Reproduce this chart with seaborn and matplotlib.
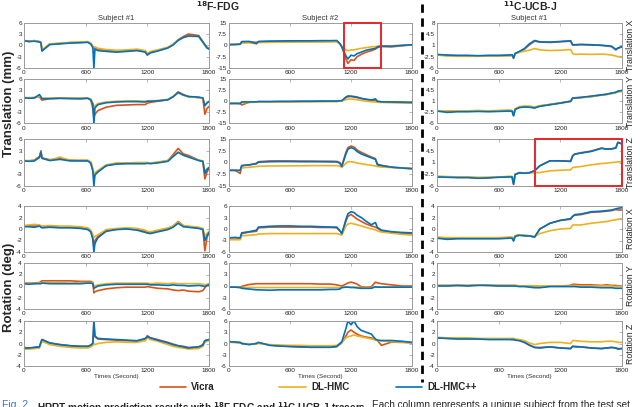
import matplotlib
matplotlib.use("Agg")
import matplotlib.pyplot as plt
from matplotlib.lines import Line2D
from matplotlib.patches import Rectangle
import seaborn as sns
import pandas as pd

# time grids (seconds) for each subject column
t_fdg1 = [0, 50, 100, 150, 165, 175, 250, 350, 450, 550, 620, 650, 670, 680, 690, 720, 800, 900,
          1000, 1100, 1180, 1200, 1230, 1300, 1400, 1450, 1500, 1550, 1600, 1700, 1740, 1760, 1780, 1800]
t_fdg2 = [0, 60, 110, 125, 200, 270, 290, 400, 500, 600, 700, 800, 900, 1000, 1060, 1090, 1110,
          1150, 1170, 1200, 1230, 1260, 1300, 1350, 1400, 1440, 1460, 1500, 1600, 1700, 1800]
t_ucb1 = [0, 100, 200, 300, 400, 500, 600, 700, 730, 745, 760, 800, 850, 900, 950, 1000, 1100,
          1200, 1300, 1320, 1340, 1400, 1500, 1600, 1650, 1700, 1740, 1760, 1800]

# ---- 18F-FDG subject #1 ----
c1_tx_vicra = [1.3, 1.1, 1.2, 1.0, 0.8, -1.4, 0.3, 0.5, 0.7, 0.8, 0.9, 0.5, -0.3, -0.8, -0.6, -1.0, -1.3, -1.5, -1.4, -1.2, -1.6, -2.6, -1.8, -1.4, -0.6, 0.2, 1.5, 2.3, 3.0, 2.6, 1.0, 0.2, -0.5, -0.8]
c1_tx_hmc = [1.2, 1.0, 1.3, 0.9, 0.7, -1.2, 0.4, 0.6, 0.8, 0.9, 1.0, 0.6, -0.2, -0.5, -0.4, -0.8, -1.1, -1.3, -1.2, -1.0, -1.4, -2.2, -1.6, -1.2, -0.5, 0.3, 1.4, 2.0, 2.4, 2.3, 0.8, 0.0, -0.6, -0.9]
c1_tx_pp = [1.2, 1.0, 1.1, 0.9, 0.7, -1.5, 0.2, 0.4, 0.6, 0.7, 0.8, 0.3, -0.6, -6.0, -1.0, -1.4, -1.6, -1.8, -1.6, -1.4, -1.8, -2.5, -2.0, -1.5, -0.7, 0.1, 1.3, 2.1, 2.5, 2.4, 0.9, 0.1, -0.7, -1.0]

c1_ty_vicra = [1.0, 0.9, 1.0, 1.2, 0.6, 0.3, 0.7, 0.8, 0.8, 0.7, 0.8, 0.3, -2.0, -4.5, -3.5, -2.5, -1.6, -1.1, -1.0, -0.9, -0.9, -0.5, -0.3, 0.0, 0.4, 1.2, 2.5, 1.8, 1.2, 1.0, 0.8, -3.5, -2.0, -1.4]
c1_ty_hmc = [0.9, 1.0, 0.9, 1.3, 1.0, 0.8, 0.8, 0.9, 0.8, 0.8, 0.9, 0.5, -0.5, -1.5, -1.2, -0.6, -0.2, 0.0, 0.1, 0.1, 0.0, 0.1, 0.1, 0.2, 0.5, 1.3, 2.2, 1.6, 1.2, 1.0, 0.8, -1.0, -0.3, 0.0]
c1_ty_pp = [0.9, 0.8, 0.9, 1.8, 1.2, 0.7, 0.7, 0.8, 0.7, 0.7, 0.8, 0.4, -0.8, -6.0, -1.8, -0.9, -0.4, -0.2, -0.1, -0.1, -0.2, 0.0, 0.0, 0.1, 0.4, 1.2, 2.4, 1.7, 1.3, 1.1, 0.9, -1.2, -0.5, -0.1]

c1_tz_vicra = [0.5, 0.4, 0.6, 1.5, 3.0, 1.2, 0.7, 1.0, 0.6, 0.5, 0.5, 0.0, -2.0, -4.0, -3.0, -2.3, -0.8, -0.3, -0.2, -0.2, -0.2, -0.1, -0.2, 0.0, 0.5, 2.0, 3.6, 2.2, 1.8, 0.6, 0.3, -4.2, -2.5, -1.5]
c1_tz_hmc = [0.4, 0.5, 0.5, 1.2, 2.2, 1.0, 0.6, 1.4, 0.5, 0.6, 0.6, 0.2, -1.5, -3.0, -2.6, -2.0, -0.6, -0.1, -0.1, 0.0, 0.0, 0.0, -0.1, 0.1, 0.5, 1.6, 2.6, 1.8, 1.4, 0.6, 0.4, -2.3, -1.6, -1.2]
c1_tz_pp = [0.4, 0.3, 0.4, 1.3, 2.6, 1.1, 0.5, 0.8, 0.4, 0.4, 0.4, -0.2, -2.2, -6.0, -3.2, -2.4, -0.8, -0.4, -0.3, -0.3, -0.3, -0.2, -0.3, -0.1, 0.3, 1.5, 2.6, 1.9, 1.4, 0.5, 0.3, -2.8, -1.8, -1.3]

c1_rx_vicra = [0.5, 0.6, 0.5, 0.6, 0.5, 0.4, 0.5, 0.4, 0.4, 0.3, 0.1, -0.4, -1.5, -3.2, -2.0, -1.3, -0.3, 0.0, 0.1, 0.0, -0.4, -0.6, -0.6, -0.3, 0.1, 0.5, 1.3, 0.6, 0.4, 0.2, 0.0, -3.8, -1.5, -0.6]
c1_rx_hmc = [0.6, 0.7, 0.8, 0.7, 0.6, 0.5, 0.6, 0.5, 0.5, 0.4, 0.2, -0.2, -1.0, -1.5, -1.3, -1.0, -0.1, 0.1, 0.2, 0.1, -0.2, -0.4, -0.5, -0.2, 0.2, 0.5, 1.2, 0.6, 0.5, 0.3, 0.1, -1.2, -0.8, -0.4]
c1_rx_pp = [0.4, 0.4, 0.3, 0.5, 0.3, 0.2, 0.3, 0.2, 0.2, 0.1, -0.1, -0.5, -1.8, -4.0, -2.5, -1.5, -0.4, -0.1, 0.0, -0.2, -0.6, -0.7, -0.8, -0.5, -0.1, 0.3, 1.0, 0.4, 0.3, 0.1, -0.1, -2.0, -1.2, -0.6]

c1_ry_vicra = [0.5, 0.5, 0.5, 0.6, 0.8, 0.9, 0.9, 0.9, 0.9, 0.8, 0.8, 0.8, 0.6, -1.2, -1.0, -0.8, -0.5, -0.3, -0.2, -0.2, -0.2, -0.1, -0.2, -0.4, -0.5, -0.7, -0.8, -0.7, -0.9, -1.0, -0.8, -0.3, 0.1, 0.3]
c1_ry_hmc = [0.4, 0.5, 0.4, 0.5, 0.5, 0.6, 0.6, 0.6, 0.5, 0.6, 0.6, 0.6, 0.5, 0.1, 0.0, 0.2, 0.4, 0.5, 0.5, 0.5, 0.5, 0.5, 0.4, 0.5, 0.4, 0.5, 0.4, 0.4, 0.4, 0.4, 0.3, 0.2, 0.3, 0.4]
c1_ry_pp = [0.4, 0.3, 0.4, 0.4, 0.4, 0.5, 0.4, 0.4, 0.4, 0.4, 0.5, 0.5, 0.4, -0.4, -0.3, 0.0, 0.2, 0.3, 0.3, 0.3, 0.3, 0.3, 0.2, 0.2, 0.1, 0.2, 0.1, 0.1, 0.0, 0.1, 0.0, -0.1, 0.1, 0.2]

c1_rz_vicra = [-0.7, -0.8, -0.7, -0.6, 0.2, 0.7, 0.1, -0.2, -0.4, -0.5, -0.5, -0.3, 0.1, 3.8, 1.2, 0.8, 0.7, 0.6, 0.5, 0.4, 0.8, 1.4, 1.0, 0.7, 0.2, -0.1, -0.4, -0.5, -0.7, -0.6, -0.2, 0.5, 0.6, 0.7]
c1_rz_hmc = [-1.0, -1.0, -0.9, -0.8, 0.0, 0.4, -0.2, -0.5, -0.7, -0.8, -0.8, -0.6, -0.3, 0.0, -0.2, 0.0, 0.2, 0.3, 0.2, 0.2, 0.5, 1.0, 0.7, 0.4, -0.2, -0.5, -0.7, -0.8, -1.0, -0.9, -0.5, 0.2, 0.4, 0.5]
c1_rz_pp = [-0.8, -0.8, -0.7, -0.6, 0.2, 0.7, 0.1, -0.2, -0.4, -0.5, -0.5, -0.3, 0.0, 4.0, 1.3, 0.9, 0.8, 0.7, 0.6, 0.5, 0.9, 1.2, 1.0, 0.6, 0.1, -0.2, -0.4, -0.6, -0.8, -0.6, -0.3, 0.5, 0.6, 0.7]

# ---- 18F-FDG subject #2 ----
c2_tx_vicra = [0.5, 0.6, 0.8, 2.0, 2.2, 2.0, 2.3, 2.5, 2.6, 2.6, 2.6, 2.6, 2.7, 2.7, 2.8, 1.0, -1.0, -9.0, -12.0, -9.5, -10.0, -7.5, -6.0, -4.5, -3.5, -2.5, -1.5, -0.8, -1.0, -0.3, 0.3]
c2_tx_hmc = [0.4, 0.5, 0.6, 1.5, 1.6, 1.0, 1.8, 2.0, 2.1, 2.1, 2.2, 2.2, 2.2, 2.3, 2.3, 1.0, -0.5, -3.0, -3.5, -3.0, -3.0, -2.5, -2.0, -1.5, -1.0, -0.8, -0.5, -0.3, -0.3, 0.0, 0.3]
c2_tx_pp = [0.5, 0.6, 0.8, 2.5, 2.6, 1.2, 2.6, 2.8, 2.9, 3.0, 3.0, 3.0, 3.1, 3.1, 3.2, 1.2, -1.0, -7.0, -9.0, -6.5, -7.0, -5.5, -4.5, -3.2, -2.5, -2.0, -1.0, -0.5, -0.6, 0.0, 0.4]

c2_ty_vicra = [-1.6, -1.5, -1.6, -2.5, -0.6, -0.5, -0.3, -0.3, -0.2, -0.2, -0.1, -0.1, 0.0, 0.0, 0.0, 0.2, 0.3, 2.5, 3.0, 3.2, 2.8, 2.5, 1.8, 1.2, 0.8, 0.6, -0.2, -0.4, -0.5, -0.7, -0.9]
c2_ty_hmc = [-1.5, -1.5, -1.5, -1.0, -0.8, -0.6, -0.6, -0.5, -0.5, -0.4, -0.4, -0.3, -0.3, -0.2, -0.2, 0.0, 0.2, 1.0, 1.4, 1.5, 1.3, 1.0, 0.5, 0.0, -0.3, -0.5, -0.7, -0.8, -1.0, -1.2, -1.3]
c2_ty_pp = [-1.5, -1.4, -1.5, -0.4, -0.5, -0.4, -0.2, -0.2, -0.1, -0.1, 0.0, 0.0, 0.1, 0.1, 0.1, 0.3, 0.4, 2.8, 3.6, 3.4, 3.2, 2.8, 2.0, 1.3, 0.9, 1.6, 0.0, -0.4, -0.5, -0.6, -0.8]

c2_tz_vicra = [-5.0, -5.0, -7.0, -2.0, -1.5, -0.5, 0.5, 1.0, 1.0, 1.0, 0.9, 0.9, 0.8, 0.8, 0.7, 0.0, -2.0, 6.5, 9.5, 10.5, 9.8, 8.0, 6.5, 5.0, 3.5, 2.5, -1.0, -1.8, -3.0, -3.5, -3.8]
c2_tz_hmc = [-5.0, -5.0, -5.0, -3.5, -3.0, -2.6, -2.4, -2.2, -2.2, -2.1, -2.1, -2.0, -2.0, -2.0, -2.0, -2.3, -3.2, -0.5, 0.5, 0.5, 0.2, -0.3, -0.8, -1.3, -1.8, -2.2, -2.6, -2.9, -3.2, -3.6, -4.0]
c2_tz_pp = [-5.0, -5.0, -5.0, -2.0, -1.5, -0.8, 0.2, 0.5, 0.6, 0.6, 0.5, 0.5, 0.5, 0.4, 0.4, -0.5, -2.5, 5.5, 8.5, 9.5, 8.8, 7.0, 5.5, 4.2, 3.0, 2.0, -1.5, -2.0, -3.0, -3.5, -4.0]

c2_rx_vicra = [-2.3, -2.3, -2.4, -1.2, -0.8, -0.6, 0.3, 0.5, 0.5, 0.5, 0.5, 0.5, 0.4, 0.4, 0.3, -0.5, -1.2, 2.0, 3.3, 3.8, 3.2, 2.6, 2.0, 1.3, 0.8, 0.5, 0.2, -0.5, -0.9, -1.1, -1.3]
c2_rx_hmc = [-2.8, -2.8, -2.8, -1.8, -1.6, -1.5, -1.3, -1.2, -1.2, -1.2, -1.2, -1.2, -1.2, -1.2, -1.2, -1.4, -1.6, 0.8, 1.3, 1.5, 1.3, 1.1, 0.8, 0.4, 0.0, -0.2, -0.5, -0.8, -1.1, -1.4, -1.6]
c2_rx_pp = [-2.3, -2.2, -2.3, -1.0, -0.7, -0.3, 0.5, 0.7, 0.8, 0.8, 0.7, 0.7, 0.6, 0.5, 0.5, -0.4, -1.2, 2.5, 4.0, 4.5, 4.3, 3.6, 3.0, 2.0, 1.1, 1.7, 0.4, -0.3, -0.7, -0.9, -1.0]

c2_ry_vicra = [-0.3, -0.3, -0.3, -0.1, 0.4, 0.6, 0.6, 0.6, 0.6, 0.6, 0.6, 0.6, 0.5, 0.5, 0.3, 0.1, 0.0, 0.5, 0.8, 1.0, 0.8, 0.5, -0.2, -0.3, -0.2, 1.0, 0.8, 0.6, 0.3, 0.0, 0.0]
c2_ry_hmc = [-0.3, -0.3, -0.4, -0.4, -0.4, -0.4, -0.4, -0.4, -0.4, -0.4, -0.4, -0.4, -0.4, -0.4, -0.4, -0.4, -0.4, -0.3, -0.3, -0.3, -0.3, -0.3, -0.4, -0.4, -0.4, -0.3, -0.3, -0.3, -0.3, -0.3, -0.3]
c2_ry_pp = [-0.3, -0.3, -0.4, -0.6, -0.8, -1.0, -1.0, -1.1, -1.0, -1.0, -1.0, -1.0, -1.0, -0.9, -0.9, -0.8, -0.4, -0.3, -0.3, -0.4, -0.4, -0.5, -0.6, -0.6, -0.6, -0.2, -0.3, -0.3, -0.3, -0.3, -0.3]

c2_rz_vicra = [0.4, 0.3, 0.2, 0.0, -0.2, 0.0, 0.2, -0.4, -0.6, -0.8, -0.9, -1.0, -1.0, -1.0, -0.8, -0.2, 0.2, 2.0, 3.0, 3.6, 3.0, 2.5, 2.0, 1.7, 1.5, 1.0, 0.8, -0.5, 0.4, 0.3, 0.2]
c2_rz_hmc = [0.3, 0.3, 0.2, 0.0, -0.1, -0.1, 0.0, -0.3, -0.4, -0.5, -0.5, -0.6, -0.6, -0.6, -0.5, 0.0, 0.3, 1.5, 1.8, 2.0, 2.3, 2.0, 1.8, 1.5, 1.2, 1.0, 0.8, 0.7, 0.5, 0.4, 0.2]
c2_rz_pp = [0.5, 0.4, 0.3, 0.0, -0.3, 0.0, 0.3, -0.5, -0.7, -0.8, -0.9, -1.0, -1.0, -1.0, -0.8, 0.0, 0.5, 4.0, 6.0, 5.0, 6.0, 4.5, 3.5, 3.0, 2.5, 1.2, 0.9, 0.8, 0.8, 0.6, 0.3]

# ---- 11C-UCB-J subject #1 ----
c3_tx_vicra = [-1.9, -2.1, -2.2, -2.2, -2.3, -2.2, -2.2, -2.1, -2.0, -3.0, -1.5, -1.0, -0.2, 1.2, 2.3, 2.0, 1.9, 2.1, 2.3, 1.1, 1.1, 1.2, 1.1, 1.0, 0.8, 0.6, -0.4, 0.1, 0.5]
c3_tx_hmc = [-2.0, -2.3, -2.4, -2.4, -2.4, -2.3, -2.3, -2.3, -2.2, -2.8, -1.6, -1.2, -0.8, -0.5, 0.0, -0.4, -0.6, -0.5, -0.3, -1.5, -1.8, -1.7, -1.8, -1.7, -1.8, -2.0, -2.3, -2.5, -2.5]
c3_tx_pp = [-1.8, -2.0, -2.1, -2.1, -2.2, -2.1, -2.1, -2.0, -1.9, -2.9, -1.5, -0.9, 0.0, 1.5, 2.5, 2.1, 2.0, 2.2, 2.4, 1.2, 1.2, 1.3, 1.2, 1.0, 0.9, 0.7, -0.3, 0.2, 0.6]

c3_ty_vicra = [-2.0, -2.2, -2.1, -2.1, -2.0, -2.1, -2.0, -1.9, -2.0, -3.5, -1.5, -0.9, -0.7, -0.8, -1.0, -0.5, 0.0, 0.5, 1.0, 2.0, 2.1, 2.2, 2.5, 3.0, 3.2, 3.5, 3.8, 4.0, 4.3]
c3_ty_hmc = [-2.0, -2.0, -2.0, -2.0, -1.9, -2.0, -1.9, -1.8, -1.9, -3.0, -1.4, -0.7, -0.5, -0.5, -0.8, -0.4, 0.0, 0.4, 0.9, 1.8, 2.0, 2.1, 2.4, 2.9, 3.1, 3.4, 3.7, 3.9, 4.1]
c3_ty_pp = [-2.1, -2.5, -2.3, -2.3, -2.2, -2.3, -2.2, -2.1, -2.1, -3.6, -1.6, -1.0, -0.8, -0.9, -1.1, -0.6, -0.1, 0.4, 1.0, 2.0, 2.0, 2.2, 2.6, 3.0, 3.2, 3.6, 3.8, 4.2, 4.4]

c3_tz_vicra = [-3.2, -3.3, -3.4, -3.4, -3.6, -3.5, -3.3, -3.2, -3.2, -5.5, -2.5, -2.0, -2.1, -2.0, -1.5, 0.0, 1.5, 1.5, 1.4, 3.0, 3.5, 3.9, 4.4, 5.3, 5.0, 5.0, 5.4, 7.0, 6.6]
c3_tz_hmc = [-3.1, -3.2, -3.3, -3.3, -3.4, -3.4, -3.3, -3.2, -3.2, -4.5, -2.5, -2.2, -2.2, -2.1, -2.0, -2.0, -1.5, -1.3, -1.2, -0.5, -0.4, -0.2, 0.3, 0.7, 0.8, 1.0, 1.1, 1.2, 1.2]
c3_tz_pp = [-3.3, -3.4, -3.5, -3.5, -3.7, -3.6, -3.4, -3.3, -3.3, -5.5, -2.6, -2.1, -2.2, -2.1, -1.4, 0.0, 1.5, 1.5, 1.3, 3.0, 3.5, 3.8, 4.3, 5.2, 5.0, 5.1, 5.3, 7.0, 6.5]

c3_rx_vicra = [-1.5, -1.6, -1.6, -1.6, -1.6, -1.6, -1.6, -1.5, -1.5, -2.0, -1.2, -1.0, -1.1, -1.2, -1.4, 0.0, 1.0, 1.5, 1.7, 2.2, 2.4, 2.5, 2.9, 3.0, 3.1, 3.2, 3.4, 3.3, 3.3]
c3_rx_hmc = [-1.4, -1.5, -1.5, -1.5, -1.5, -1.5, -1.5, -1.4, -1.4, -1.6, -1.2, -1.0, -1.1, -1.2, -1.3, -0.8, -0.3, 0.0, 0.1, 0.7, 0.7, 0.7, 1.0, 1.2, 1.3, 1.5, 1.6, 1.7, 1.7]
c3_rx_pp = [-1.6, -1.8, -1.7, -1.7, -1.7, -1.7, -1.7, -1.6, -1.6, -2.1, -1.3, -1.1, -1.2, -1.2, -1.4, 0.0, 1.0, 1.5, 1.8, 2.2, 2.5, 2.6, 3.0, 3.1, 3.2, 3.3, 3.5, 3.6, 3.7]

c3_ry_vicra = [0.1, 0.1, 0.1, 0.1, 0.2, 0.1, 0.1, 0.1, 0.1, 0.1, 0.1, 0.0, 0.0, 0.0, 0.0, -0.1, 0.0, 0.0, 0.1, 0.3, 0.3, 0.2, 0.2, 0.1, 0.2, 0.1, 0.1, 0.0, 0.0]
c3_ry_hmc = [0.1, 0.1, 0.1, 0.1, 0.2, 0.1, 0.1, 0.1, 0.1, 0.1, 0.1, 0.0, 0.0, 0.0, 0.0, 0.0, 0.0, 0.0, 0.0, 0.1, 0.1, 0.0, 0.0, 0.0, 0.0, 0.0, -0.1, -0.1, -0.1]
c3_ry_pp = [0.0, 0.0, 0.1, 0.0, 0.1, 0.1, 0.0, 0.0, 0.0, 0.0, 0.0, -0.1, -0.1, -0.2, -0.3, -0.3, -0.1, -0.1, -0.1, -0.1, -0.1, -0.2, -0.2, -0.3, -0.3, -0.3, -0.4, -0.4, -0.4]

c3_rz_vicra = [1.0, 0.9, 0.9, 0.9, 0.8, 0.8, 0.8, 0.8, 0.7, 0.7, 0.7, 0.6, 0.2, -0.3, -0.7, -0.7, -0.6, -0.8, -0.9, -0.5, -0.5, -0.6, -0.8, -0.9, -0.8, -0.7, -0.8, -0.9, -0.9]
c3_rz_hmc = [1.1, 1.0, 1.0, 1.0, 0.9, 0.9, 0.9, 0.9, 0.9, 0.9, 0.8, 0.7, 0.5, 0.1, -0.2, 0.0, 0.2, 0.2, 0.0, 0.5, 0.5, 0.4, 0.3, 0.3, 0.4, 0.4, 0.3, 0.2, 0.2]
c3_rz_pp = [1.0, 0.9, 0.8, 0.8, 0.8, 0.7, 0.7, 0.7, 0.7, 0.7, 0.6, 0.5, 0.2, -0.3, -0.7, -0.8, -0.6, -0.8, -0.9, -0.5, -0.6, -0.6, -0.8, -0.9, -0.8, -0.7, -0.8, -1.0, -0.9]

methods = ["Vicra", "DL-HMC", "DL-HMC++"]
colors = {"Vicra": "#D95319", "DL-HMC": "#EDB120", "DL-HMC++": "#0072BD"}
row_names = ["Translation X", "Translation Y", "Translation Z", "Rotation X", "Rotation Y", "Rotation Z"]
col_titles = ["Subject #1", "Subject #2", "Subject #1"]
x_ticks = [0, 600, 1200, 1800]
y_ticks = [
    [[-6, -3, 0, 3, 6]] * 3 + [[-4, -2, 0, 2, 4]] * 3,
    [[-15, -7.5, 0, 7.5, 15]] * 3 + [[-6, -3, 0, 3, 6]] * 3,
    [[-6, -2.5, 1, 4.5, 8]] * 3 + [[-4, -2, 0, 2, 4]] * 3,
]

panels = [
    (t_fdg1, [(c1_tx_vicra, c1_tx_hmc, c1_tx_pp), (c1_ty_vicra, c1_ty_hmc, c1_ty_pp),
              (c1_tz_vicra, c1_tz_hmc, c1_tz_pp), (c1_rx_vicra, c1_rx_hmc, c1_rx_pp),
              (c1_ry_vicra, c1_ry_hmc, c1_ry_pp), (c1_rz_vicra, c1_rz_hmc, c1_rz_pp)]),
    (t_fdg2, [(c2_tx_vicra, c2_tx_hmc, c2_tx_pp), (c2_ty_vicra, c2_ty_hmc, c2_ty_pp),
              (c2_tz_vicra, c2_tz_hmc, c2_tz_pp), (c2_rx_vicra, c2_rx_hmc, c2_rx_pp),
              (c2_ry_vicra, c2_ry_hmc, c2_ry_pp), (c2_rz_vicra, c2_rz_hmc, c2_rz_pp)]),
    (t_ucb1, [(c3_tx_vicra, c3_tx_hmc, c3_tx_pp), (c3_ty_vicra, c3_ty_hmc, c3_ty_pp),
              (c3_tz_vicra, c3_tz_hmc, c3_tz_pp), (c3_rx_vicra, c3_rx_hmc, c3_rx_pp),
              (c3_ry_vicra, c3_ry_hmc, c3_ry_pp), (c3_rz_vicra, c3_rz_hmc, c3_rz_pp)]),
]

sns.set_style("white")
plt.rcParams["font.family"] = ["Liberation Sans", "DejaVu Sans"]

W, H = 640, 407
fig = plt.figure(figsize=(6.4, 4.07), dpi=100)

rows_px = [(22.7, 68), (79, 123.5), (139, 186), (206, 252), (263, 309), (321, 366)]
cols_px = [(24, 209), (229, 412), (437, 622)]


def px_axes(l, t, r, b):
    return fig.add_axes([l / W, 1 - b / H, (r - l) / W, (b - t) / H])


def fmt(v):
    return ("%g" % v)


for c, (times, rows) in enumerate(panels):
    l, r = cols_px[c]
    for i, (v, h, p) in enumerate(rows):
        t, b = rows_px[i]
        ax = px_axes(l, t, r, b)
        df = pd.DataFrame({
            "time": times * 3,
            "value": v + h + p,
            "method": ["Vicra"] * len(v) + ["DL-HMC"] * len(h) + ["DL-HMC++"] * len(p),
        })
        sns.lineplot(data=df, x="time", y="value", hue="method", hue_order=methods,
                     palette=colors, estimator=None, sort=False, lw=1.2, ax=ax, legend=False)
        yt = y_ticks[c][i]
        ax.set_xlim(0, 1800)
        ax.set_ylim(yt[0], yt[-1])
        ax.set_xticks(x_ticks)
        ax.set_xticklabels([str(x) for x in x_ticks], fontsize=4.6, color="#222222")
        ax.set_yticks(yt)
        ax.set_yticklabels([fmt(y) for y in yt], fontsize=4.6, color="#222222")
        ax.set_xlabel("")
        ax.set_ylabel("")
        ax.tick_params(direction="in", length=2, width=0.5, pad=1.5, top=True, right=True,
                       colors="#999999", labelcolor="#222222")
        for s in ax.spines.values():
            s.set_color("#9a9a9a")
            s.set_linewidth(0.7)
        if i == 0:
            ax.set_title(col_titles[c], fontsize=5.5, pad=2.0, color="#333333")
        if i == 5:
            ax.set_xlabel("Times (Second)", fontsize=4.6, labelpad=0.5, color="#333333")
        if c == 2:
            ax.yaxis.set_label_position("right")
            ax.set_ylabel(row_names[i], fontsize=6.3, rotation=90, labelpad=3, color="#222222")
        # red highlight boxes
        if c == 1 and i == 0:
            ax.add_patch(Rectangle((1130, yt[0]), 365, yt[-1] - yt[0], fill=False,
                                   ec="#E8262A", lw=1.4, clip_on=False, zorder=5))
        if c == 2 and i == 2:
            ax.add_patch(Rectangle((955, yt[0]), 845, yt[-1] - yt[0], fill=False,
                                   ec="#E8262A", lw=1.4, clip_on=False, zorder=5))

# headings
fig.text(218 / W, 1 - 6.5 / H, r"$\mathbf{^{18}}$F-FDG", fontsize=7.5, fontweight="bold",
         ha="center", va="center")
fig.text(530 / W, 1 - 6.5 / H, r"$\mathbf{^{11}}$C-UCB-J", fontsize=7.5, fontweight="bold",
         ha="center", va="center")
fig.text(9 / W, 1 - 104 / H, "Translation (mm)", fontsize=9.5, fontweight="bold",
         rotation=90, ha="center", va="center")
fig.text(9 / W, 1 - 287 / H, "Rotation (deg)", fontsize=9.5, fontweight="bold",
         rotation=90, ha="center", va="center")

# dashed separator between tracers
fig.add_artist(Line2D([422 / W, 422 / W], [1 - 4 / H, 1 - 382 / H], color="black",
                      lw=2.0, ls=(0, (3, 2))))

# legend row
legend_px = [(160, 186, "Vicra"), (279, 306, "DL-HMC"), (396, 422, "DL-HMC++")]
for x0, x1, name in legend_px:
    yy = 1 - 387 / H
    fig.add_artist(Line2D([x0 / W, x1 / W], [yy, yy], color=colors[name], lw=1.2))
    fig.text((x1 + 5) / W, yy, name, fontsize=7, fontweight="bold", ha="left", va="center")

# caption (cut by the image border, as in the source page)
cy = 1 - 400 / H
fig.text(2 / W, cy, "Fig. 2.", fontsize=7.5, color="#3a78c2", ha="left", va="top")
fig.text(37 / W, cy, r"HRRT motion prediction results with $\mathbf{^{18}}$F-FDG and $\mathbf{^{11}}$C-UCB-J tracers.",
         fontsize=7.2, fontweight="bold", ha="left", va="top")
fig.text(372 / W, cy, "Each column represents a unique subject from the test set.",
         fontsize=7.2, ha="left", va="top")

fig.savefig("out.png", dpi=100)
